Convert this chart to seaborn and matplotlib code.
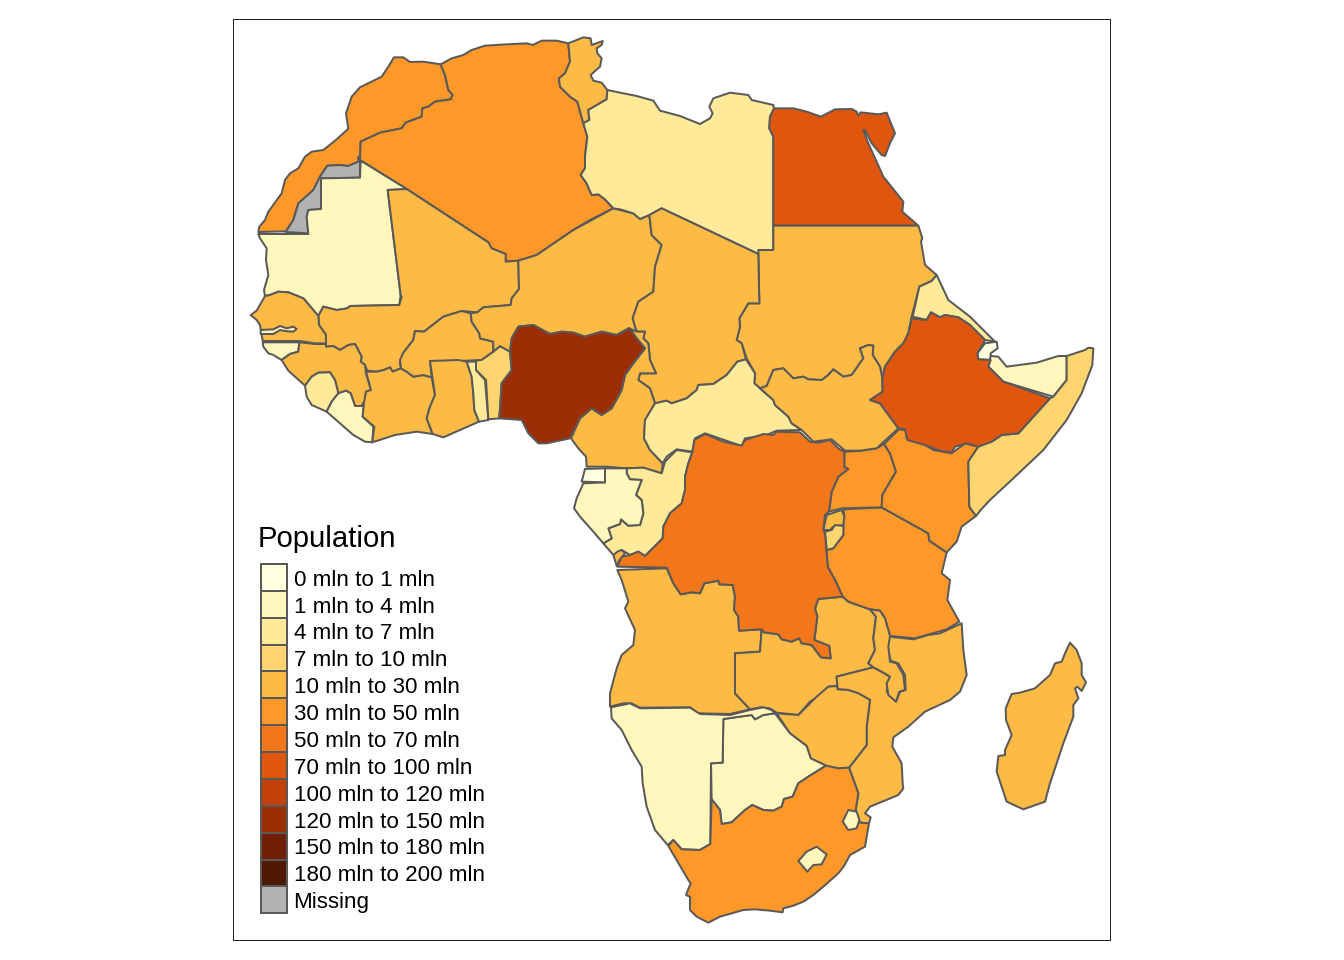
import matplotlib
matplotlib.use("Agg")
import matplotlib.pyplot as plt
import numpy as np
import pandas as pd
import seaborn as sns
from matplotlib.patches import Rectangle

# Outlines were traced at 3x scale from four sheets of the map; each sheet has its own origin.
NW = (240, 30)
EAST = (620, 80)
MID = (560, 420)
SOUTH = (600, 620)


def traced(origin, pts):
    return [(origin[0] + x / 3, origin[1] + y / 3) for x, y in pts]


morocco = traced(NW, [(462,82),(490,82),(510,96),(550,95),(602,103),(615,135),(625,180),(638,195),(632,208),(585,215),(565,230),(547,235),(545,260),(497,278),(485,295),(420,308),(362,335),(360,392),(355,380),(355,395),(325,408),(300,405),(262,407),(240,440),(220,480),(175,520),(160,570),(137,604),(55,606),(58,590),(75,570),(85,545),(125,490),(135,450),(150,430),(175,415),(195,380),(215,365),(250,360),(290,328),(325,296),(318,250),(335,200),(360,172),(425,140),(445,110)])
algeria = traced(NW, [(602,103),(635,85),(670,75),(695,60),(735,47),(800,43),(860,40),(878,45),(905,32),(950,32),(985,40),(990,95),(975,130),(957,145),(960,170),(990,200),(1012,215),(1030,280),(1042,320),(1035,380),(1035,415),(1022,435),(1040,460),(1055,495),(1075,493),(1095,508),(1120,535),(1050,570),(1000,600),(890,675),(835,692),(797,695),(797,672),(755,655),(745,637),(500,477),(360,390),(362,335),(420,308),(485,295),(497,278),(545,260),(547,235),(565,230),(585,215),(632,208),(638,195),(625,180),(615,135)])
tunisia = traced(NW, [(985,40),(1030,22),(1052,25),(1055,45),(1088,33),(1085,45),(1070,55),(1072,70),(1085,85),(1080,110),(1052,135),(1060,152),(1085,158),(1102,180),(1100,208),(1045,240),(1048,270),(1030,280),(1012,215),(990,200),(960,170),(957,145),(975,130),(990,95)])
western_sahara = traced(NW, [(262,407),(300,405),(325,408),(355,395),(360,395),(360,443),(243,445),(243,537),(205,540),(200,560),(205,610),(137,606),(160,570),(175,520),(220,480),(240,440)])
mauritania = traced(NW, [(55,612),(205,612),(200,560),(205,540),(243,537),(243,445),(360,443),(362,392),(500,477),(443,480),(482,795),(478,825),(330,828),(322,835),(290,840),(250,830),(235,858),(190,805),(145,787),(115,785),(90,795),(75,798),(72,780),(85,735),(78,690),(80,655),(60,625)])
mali = traced(NW, [(443,480),(500,477),(745,637),(755,655),(797,672),(797,695),(835,692),(837,777),(815,805),(812,825),(730,832),(712,847),(665,843),(610,860),(565,895),(552,905),(525,903),(520,930),(490,968),(480,1000),(483,1015),(458,1025),(450,1012),(432,1020),(410,1025),(382,1022),(375,1005),(362,995),(365,980),(345,942),(325,945),(300,960),(280,948),(258,950),(258,915),(237,885),(235,858),(250,830),(290,840),(322,835),(330,828),(478,825),(485,800),(482,795)])
senegal = traced(NW, [(32,855),(50,842),(75,798),(90,795),(115,785),(145,787),(190,805),(235,858),(237,885),(258,915),(258,940),(225,940),(180,933),(68,933),(60,885),(50,870)])
gambia = traced(NW, [(62,900),(100,898),(120,888),(140,895),(160,890),(170,897),(160,905),(135,903),(120,900),(100,912),(62,912)])
guinea_bissau = traced(NW, [(68,937),(178,937),(175,965),(150,972),(125,990),(100,975),(85,970),(70,950)])
guinea = traced(NW, [(178,937),(225,942),(258,942),(258,950),(280,948),(300,960),(325,945),(345,942),(365,980),(362,995),(375,1005),(378,1030),(393,1080),(378,1085),(375,1110),(365,1128),(345,1128),(332,1090),(318,1082),(295,1090),(285,1050),(270,1027),(235,1028),(215,1040),(195,1067),(165,1040),(145,1022),(125,990),(150,972),(175,965)])
sierra_leone = traced(NW, [(195,1067),(215,1040),(235,1028),(270,1027),(285,1050),(295,1090),(275,1115),(260,1145),(215,1125),(200,1100)])
liberia = traced(NW, [(260,1145),(275,1115),(295,1090),(318,1082),(332,1090),(345,1128),(365,1128),(372,1118),(368,1160),(400,1190),(397,1237),(375,1235),(340,1215)])
ivory_coast = traced(NW, [(378,1025),(410,1025),(432,1020),(450,1012),(458,1025),(483,1015),(500,1025),(520,1040),(550,1035),(575,1042),(585,1095),(570,1130),(560,1165),(578,1212),(530,1205),(465,1215),(397,1237),(403,1190),(368,1160),(372,1118),(378,1085),(393,1080)])
burkina_faso = traced(NW, [(483,1015),(480,990),(490,968),(520,930),(525,903),(552,905),(565,895),(610,860),(665,843),(692,850),(695,875),(718,910),(720,925),(760,935),(760,965),(725,990),(655,993),(570,993),(575,1042),(550,1035),(520,1040),(500,1025)])
ghana = traced(NW, [(570,993),(655,990),(680,995),(695,1040),(700,1090),(703,1140),(717,1175),(610,1222),(578,1212),(560,1165),(570,1130),(585,1095)])
togo = traced(NW, [(680,995),(708,995),(708,1020),(735,1050),(745,1170),(717,1175),(703,1140),(700,1090),(695,1040)])
benin = traced(NW, [(708,992),(725,990),(760,965),(780,948),(810,965),(815,1020),(785,1060),(778,1165),(745,1168),(738,1050),(708,1020)])
niger = (traced(NW, [(692,850),(712,847),(730,832),(812,825),(815,805),(837,777),(835,692),(890,675),(1000,600),(1120,535)])
         + traced(EAST, [(40,400),(60,417),(88,405),(95,465),(125,495),(105,560),(100,635),(55,665),(38,715),(50,755),(25,745)])
         + traced(NW, [(1130,915),(1085,905),(1035,920),(1000,908),(965,905),(930,912),(880,885),(835,890),(815,925),(810,965),(780,948),(760,965),(760,935),(720,925),(718,910),(695,875)]))
libya = (traced(NW, [(1102,180)])
         + traced(EAST, [(0,38),(50,48),(100,62),(120,92),(180,108),(240,132),(270,115),(278,100),(268,80),(280,55),(330,38),(385,45),(395,60),(460,75),(462,90),(450,110),(448,145),(460,170),(460,510),(415,522),(125,385),(88,405),(60,417),(40,400),(0,388)])
         + traced(NW, [(1120,535),(1095,508),(1075,493),(1055,495),(1040,460),(1022,435),(1035,415),(1035,380),(1042,320),(1030,280),(1048,270),(1045,240),(1100,208)]))
egypt = traced(EAST, [(462,85),(520,85),(560,95),(603,110),(645,88),(695,87),(710,95),(715,107),(722,97),(775,103),(800,98),(825,160),(812,185),(795,228),(785,225),(755,190),(735,150),(730,150),(745,190),(790,290),(850,365),(847,395),(895,437),(460,437),(460,170),(448,145),(450,110)])
sudan = traced(EAST, [(460,437),(895,437),(907,475),(903,485),(915,555),(950,585),(935,603),(898,620),(875,710),(865,760),(850,790),(825,815),(795,860),(787,895),(780,860),(758,825),(760,797),(745,795),(720,805),(730,835),(695,885),(670,890),(640,868),(625,885),(605,900),(565,898),(550,890),(520,895),(490,865),(460,870),(440,918),(420,925),(403,910),(405,880),(380,835),(365,790),(350,780),(360,740),(358,715),(385,670),(418,670),(415,510),(460,510)])
chad = traced(EAST, [(125,385),(415,522),(418,670),(385,670),(358,715),(360,740),(350,780),(365,790),(378,838),(352,845),(320,885),(280,912),(235,915),(230,930),(200,955),(155,970),(140,962),(105,970),(90,925),(55,900),(60,880),(108,880),(90,840),(85,790),(70,775),(75,755),(50,755),(38,715),(55,665),(100,635),(105,560),(125,495),(95,465),(88,405)])
nigeria = (traced(NW, [(835,890),(880,885),(930,912),(965,905),(1000,908),(1035,920),(1085,905),(1130,915),(1170,895)])
           + traced(EAST, [(50,775),(75,805),(40,850),(15,885),(5,930)])
           + traced(NW, [(1115,1135),(1085,1155),(1055,1135),(1020,1165),(990,1225),(920,1240),(895,1240),(865,1210),(845,1170),(778,1165),(785,1060),(815,1020),(810,965),(815,925)]))
cameroon = (traced(EAST, [(50,755),(75,755),(70,775),(85,790),(90,840),(108,880),(60,880),(55,900),(90,925),(105,970),(75,1020),(72,1075),(90,1110),(128,1150),(125,1180)])
            + traced(MID, [(250,143),(200,145),(140,140),(80,140),(78,110),(55,85),(33,55)])
            + traced(NW, [(1020,1165),(1055,1135),(1085,1155),(1115,1135)])
            + traced(EAST, [(5,930),(15,885),(40,850),(75,805),(50,775),(25,745)]))
central_african_rep = traced(EAST, [(105,970),(140,962),(155,970),(200,955),(230,930),(235,915),(280,912),(320,885),(352,845),(378,838),(405,880),(403,910),(420,925),(460,960),(465,975),(505,1010),(515,1030),(545,1050),(470,1052),(440,1065),(375,1075),(365,1098),(255,1060),(225,1075),(217,1115),(170,1108),(140,1130),(128,1150),(90,1110),(72,1075),(75,1020)])
congo = traced(MID, [(200,145),(250,143),(305,160),(315,125),(350,90),(397,97),(385,130),(375,170),(375,210),(365,250),(330,280),(310,320),(308,355),(255,408),(235,395),(210,405),(185,390),(170,410),(160,405),(130,370),(155,355),(145,325),(180,312),(183,298),(205,317),(240,315),(250,280),(245,240),(228,225),(245,180),(210,178),(200,160)])
cabinda = traced(MID, [(160,405),(172,395),(185,390),(195,400),(178,420),(170,438)])
gabon = traced(MID, [(70,190),(135,187),(135,145),(200,145),(200,160),(210,178),(245,180),(228,225),(245,240),(250,280),(240,315),(205,317),(183,298),(180,312),(145,325),(155,355),(130,370),(100,335),(60,290),(42,265),(50,235)])
equatorial_guinea = traced(MID, [(65,185),(75,147),(135,145),(135,187)])
dr_congo = traced(MID, [(397,97),(403,60),(435,42),(490,65),(545,77),(555,60),(610,42),(640,45),(650,35),(720,37),(750,65),(775,68),(810,60),(835,85),(853,95),(853,142),(865,147),(835,170),(815,215),(807,275),(795,285),(790,330),(795,340),(803,440),(825,480),(848,530),(775,537),(765,565),(772,590),(763,660),(808,678),(812,715),(783,712),(755,675),(725,670),(718,655),(695,665),(665,658),(655,643),(612,637),(605,628),(537,632),(535,590),(522,570),(525,530),(518,495),(478,493),(475,482),(433,490),(420,520),(395,517),(362,523),(340,490),(320,443),(172,440),(185,410),(210,405),(235,395),(255,408),(308,355),(310,320),(330,280),(365,250),(375,210),(375,170),(385,130)])
angola = traced(MID, [(172,450),(320,445),(340,490),(362,523),(395,517),(420,520),(433,490),(475,482),(478,493),(518,495),(525,530),(522,570),(535,590),(537,632),(605,628),(600,695),(525,700),(525,820),(570,868),(510,882),(415,880),(390,862),(240,863),(215,850),(190,850),(150,860),(150,820),(170,745),(185,705),(220,675),(225,630),(195,565),(205,545),(185,480)])
zambia = traced(MID, [(605,628),(612,637),(655,643),(665,658),(695,665),(718,655),(725,670),(755,675),(783,712),(812,715),(808,678),(763,660),(772,590),(765,565),(775,537),(848,530),(865,545),(930,568),(948,590),(940,655),(945,690),(925,730),(940,742),(830,770),(832,797),(805,800),(775,830),(750,845),(715,885),(650,878),(630,865),(600,862),(570,868),(525,820),(525,700),(600,695)])
tanzania = traced(MID, [(850,268),(965,262),(1105,340),(1108,362),(1160,397),(1145,460),(1170,480),(1162,540),(1198,605),(1160,628),(1100,645),(1065,655),(990,648),(975,595),(960,572),(930,568),(865,545),(848,530),(825,480),(803,440),(800,390),(820,385),(850,345),(850,315),(853,290)])
rwanda = traced(MID, [(800,285),(845,270),(853,290),(850,315),(820,320),(810,330),(790,330)])
burundi = traced(MID, [(795,335),(815,330),(825,315),(850,318),(850,345),(820,385),(800,390)])
uganda = traced(MID, [(853,95),(895,93),(950,85),(972,72),(990,100),(1008,155),(967,225),(965,262),(845,265),(807,275),(815,215),(835,170),(865,147),(853,142)])
kenya = traced(MID, [(972,72),(1017,28),(1037,30),(1040,55),(1075,63),(1120,90),(1175,100),(1215,70),(1255,80),(1225,125),(1228,260),(1248,288),(1205,320),(1190,365),(1160,397),(1108,362),(1105,340),(965,262),(967,225),(1008,155),(990,100)])
south_sudan = traced(EAST, [(440,918),(460,870),(490,865),(520,895),(550,890),(565,898),(605,900),(625,885),(640,868),(670,890),(695,885),(730,835),(720,805),(745,795),(760,797),(758,825),(780,860),(787,895),(788,935),(750,960),(780,970),(835,1045),(770,1105),(720,1112),(675,1112),(635,1078),(580,1085),(545,1050),(515,1030),(505,1010),(465,975),(460,960),(420,925)])
ethiopia = traced(EAST, [(875,715),(920,720),(933,697),(960,712),(975,705),(1015,712),(1050,735),(1095,780),(1072,820),(1075,838),(1112,840),(1105,860),(1150,905),(1290,955),(1195,1060),(1145,1065),(1115,1085),(1075,1100),(1040,1090),(1005,1100),(995,1118),(960,1112),(915,1095),(862,1080),(855,1048),(835,1045),(780,970),(750,960),(788,935),(787,895),(795,860),(825,815),(850,790),(865,760)])
eritrea = traced(EAST, [(878,710),(898,620),(935,603),(950,585),(985,660),(1050,710),(1125,785),(1095,780),(1050,735),(1015,712),(975,705),(960,712),(933,697),(920,720)])
djibouti = traced(EAST, [(1095,790),(1130,785),(1133,805),(1112,820),(1112,840),(1075,838),(1072,820)])
somaliland = traced(EAST, [(1112,828),(1135,830),(1160,860),(1250,848),(1315,828),(1340,828),(1340,900),(1300,950),(1150,905),(1105,860)])
somalia = (traced(EAST, [(1340,828),(1395,810),(1405,803),(1420,805),(1417,855),(1385,940),(1340,1020),(1270,1110),(1180,1195)])
           + traced(MID, [(1290,240),(1262,270),(1248,288),(1228,260),(1225,125),(1255,80)])
           + traced(EAST, [(1085,1095),(1115,1085),(1145,1065),(1195,1060),(1290,955),(1300,950),(1340,900)]))
mozambique = traced(SOUTH, [(1085,10),(1090,90),(1100,165),(1080,215),(1050,240),(975,275),(925,320),(880,352),(877,380),(905,430),(908,490),(910,505),(895,525),(810,560),(795,580),(812,592),(807,610),(780,608),(767,570),(775,520),(747,443),(800,375),(800,320),(810,240),(775,220),(745,210),(713,208),(710,170),(820,142),(850,158),(870,170),(860,215),(888,245),(900,215),(917,210),(915,165),(895,130),(872,122),(860,70),(870,50),(940,58),(985,45),(1020,40)])
malawi = traced(MID, [(930,568),(960,572),(975,595),(990,648),(985,680),(990,725),(1010,730),(1030,765),(1035,810),(1018,815),(1008,845),(985,825),(980,790),(990,770),(965,755),(940,742),(925,730),(945,690),(940,655),(948,590)])
zimbabwe = traced(SOUTH, [(713,208),(745,210),(775,220),(810,240),(800,320),(800,375),(747,443),(715,445),(680,438),(632,415),(620,378),(570,340),(530,280),(595,285),(650,230),(685,200),(710,198)])
botswana = traced(SOUTH, [(370,297),(455,285),(465,298),(490,285),(525,280),(570,340),(620,378),(632,415),(678,437),(625,470),(595,490),(578,530),(552,537),(545,560),(520,572),(490,570),(457,555),(435,570),(395,607),(365,612),(360,570),(335,538),(333,430),(368,428)])
namibia = traced(SOUTH, [(33,262),(90,250),(120,265),(270,263),(300,282),(390,285),(450,270),(490,262),(515,270),(525,280),(490,285),(465,298),(455,285),(370,297),(368,428),(333,430),(331,672),(300,690),(245,688),(220,660),(203,675),(165,630),(140,560),(128,490),(125,440),(95,390),(65,330),(35,295)])
south_africa = traced(SOUTH, [(205,678),(220,660),(245,688),(300,690),(331,672),(335,538),(360,570),(365,612),(395,607),(435,570),(457,555),(490,570),(520,572),(545,560),(552,537),(578,530),(595,490),(625,470),(678,437),(715,445),(747,443),(775,520),(767,570),(780,608),(807,610),(795,680),(750,705),(732,738),(715,760),(670,800),(640,825),(610,845),(580,857),(550,865),(548,877),(510,872),(465,868),(430,870),(360,890),(325,908),(290,890),(270,870),(270,830),(258,825),(272,790),(265,780)])
lesotho = traced(SOUTH, [(595,723),(620,695),(650,680),(680,703),(665,733),(640,735),(622,755)])
eswatini = traced(SOUTH, [(745,570),(770,575),(778,600),(770,625),(745,630),(728,605)])
madagascar = traced(SOUTH, [(1410,68),(1430,90),(1445,130),(1445,165),(1458,187),(1445,213),(1432,200),(1425,205),(1435,235),(1420,255),(1420,290),(1390,370),(1350,490),(1335,545),(1270,568),(1220,545),(1205,500),(1190,455),(1195,408),(1215,405),(1215,390),(1235,345),(1218,300),(1217,265),(1235,222),(1260,218),(1305,205),(1350,165),(1365,130),(1385,125),(1395,100)])

# Countries, in drawing order, with population estimates in millions (None = missing).
countries = [
    (morocco, 33), (algeria, 36), (tunisia, 11), (western_sahara, None), (mauritania, 3.5),
    (mali, 15), (senegal, 13), (gambia, 1.8), (guinea_bissau, 1.6), (guinea, 11),
    (sierra_leone, 6), (liberia, 3.8), (ivory_coast, 20), (burkina_faso, 16), (ghana, 25),
    (togo, 6.5), (benin, 9), (niger, 16), (libya, 6.5), (egypt, 80), (sudan, 28), (chad, 11.5),
    (cameroon, 20), (central_african_rep, 4.5), (congo, 4.2), (gabon, 1.5), (equatorial_guinea, 0.7),
    (angola, 19), (zambia, 13), (tanzania, 44), (rwanda, 10.5), (burundi, 8.5), (uganda, 33),
    (kenya, 40), (south_sudan, 10.5), (dr_congo, 66), (cabinda, 19), (eritrea, 5), (djibouti, 0.8),
    (somaliland, 3.5), (somalia, 9.5), (ethiopia, 85), (nigeria, 145), (mozambique, 23), (malawi, 15),
    (zimbabwe, 13), (botswana, 2), (namibia, 2.2), (south_africa, 49), (lesotho, 2), (eswatini, 1.2),
    (madagascar, 21),
]

class_edges = [0, 1, 4, 7, 10, 30, 50, 70, 100, 120, 150, 180, 200]
class_labels = ["0 mln to 1 mln", "1 mln to 4 mln", "4 mln to 7 mln", "7 mln to 10 mln",
                "10 mln to 30 mln", "30 mln to 50 mln", "50 mln to 70 mln", "70 mln to 100 mln",
                "100 mln to 120 mln", "120 mln to 150 mln", "150 mln to 180 mln", "180 mln to 200 mln"]
class_colors = ["#FFFFDF", "#FFF7BC", "#FEEA98", "#FED56F", "#FDBA45", "#FE9929",
                "#F2761A", "#DF560F", "#C2410B", "#9C2E06", "#6F2005", "#4F1904"]
missing_color = "#B2B2B2"
missing_label = "Missing"
legend_title = "Population"

sns.set_theme(style="white")
plt.rcParams["font.family"] = ["Liberation Sans", "DejaVu Sans"]
palette = sns.color_palette(class_colors)
EDGE = "#595959"

fig = plt.figure(figsize=(14, 10), dpi=96)
ax = fig.add_axes([233 / 1344, 20 / 960, 877 / 1344, 921 / 960])
ax.set_xlim(233, 1110)
ax.set_ylim(940, 19)
ax.set_xticks([])
ax.set_yticks([])
for s in ax.spines.values():
    s.set_color("#222222")
    s.set_linewidth(0.75)

pops = pd.Series([p for _, p in countries], dtype=float)
classes = pd.cut(pops, class_edges, labels=False)
for (outline, _), cls in zip(countries, classes):
    color = missing_color if pd.isna(cls) else palette[int(cls)]
    xy = np.array(outline)
    ax.fill(xy[:, 0], xy[:, 1], facecolor=color, edgecolor=EDGE, linewidth=1.5, joinstyle="round")

row_h = 26.87
top = 564.0
ax.text(258, 539, legend_title, fontsize=21.9, color="black", va="center", ha="left")
for i, (lab, col) in enumerate(zip(class_labels + [missing_label], list(palette) + [missing_color])):
    ax.add_patch(Rectangle((260.5, top + i * row_h), 26.5, row_h, facecolor=col, edgecolor=EDGE, linewidth=1.5, zorder=3))
    ax.text(293.6, top + (i + 0.5) * row_h + 2.8, lab, fontsize=16.8, color="black", va="center", ha="left", zorder=3)

fig.savefig("out.png", dpi=96)
